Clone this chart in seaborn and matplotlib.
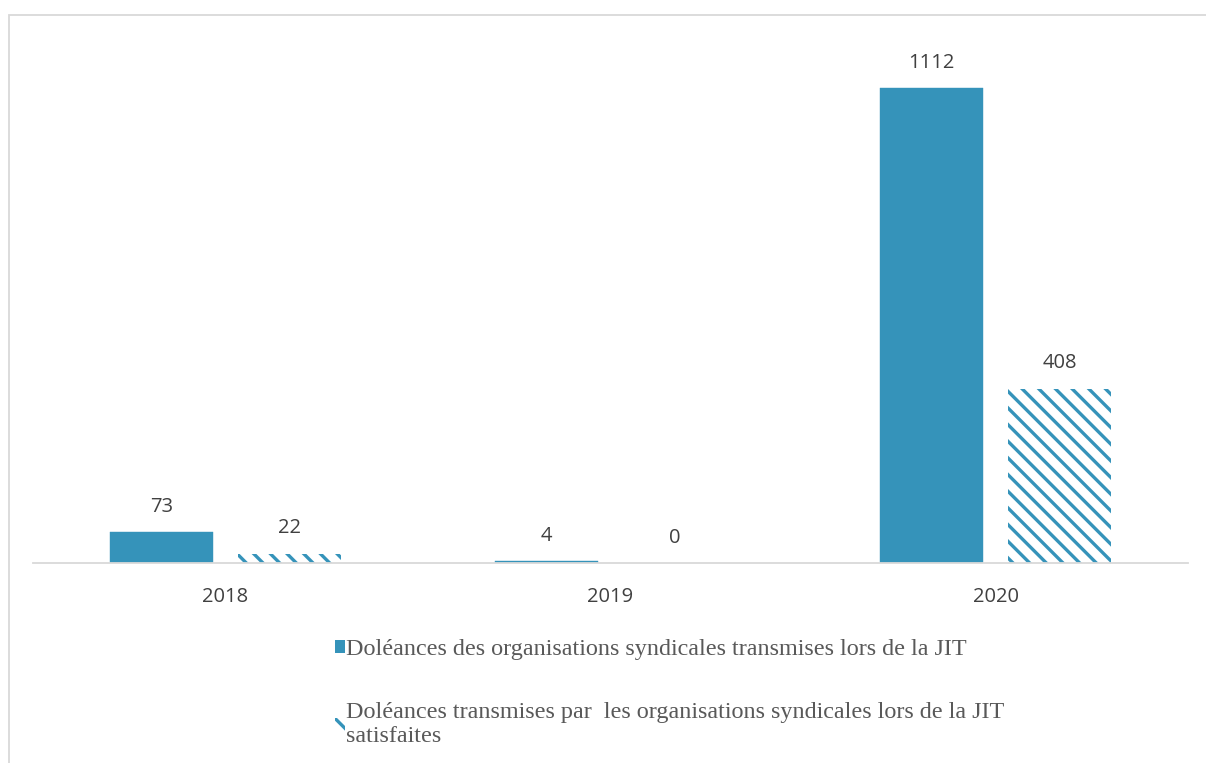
import pandas as pd
import matplotlib.pyplot as plt
import seaborn as sns
from matplotlib.patches import Rectangle

plt.switch_backend("Agg")
sns.set_theme(style="white")
plt.rcParams["font.family"] = ["Open Sans", "DejaVu Sans"]
plt.rcParams["hatch.linewidth"] = 2.4

# Data
years = ["2018", "2019", "2020"]
transmises = [73, 4, 1112]
satisfaites = [22, 0, 408]
series_names = [
    "Doléances des organisations syndicales transmises lors de la JIT",
    "Doléances transmises par  les organisations syndicales lors de la JIT\nsatisfaites",
]

BLUE = "#3593BA"
GREY_TXT = "#404040"
FRAME = "#D9D9D9"

df = pd.DataFrame({
    "Année": years * 2,
    "Valeur": transmises + satisfaites,
    "Série": [series_names[0]] * 3 + [series_names[1]] * 3,
})

fig = plt.figure(figsize=(12.06, 7.63), dpi=100)
ax = fig.add_axes([33 / 1206, 1 - 563 / 763, 1155 / 1206, (563 - 30) / 763])

sns.barplot(data=df, x="Année", y="Valeur", hue="Série", order=years,
            hue_order=series_names, palette=[BLUE, BLUE], width=0.667,
            gap=0.2, ax=ax, legend=False, saturation=1)

# second series: hatched bars
for bar in ax.containers[1]:
    bar.set_facecolor("white")
    bar.set_edgecolor(BLUE)
    bar.set_linewidth(0)
    bar.set_hatch("\\\\")
for bar in ax.containers[0]:
    bar.set_edgecolor(BLUE)
    bar.set_linewidth(0.3)

for cont in ax.containers:
    ax.bar_label(cont, fmt="%d", padding=11, fontsize=14.5, color=GREY_TXT)

ax.set_xlim(-0.5, 2.5)
ax.set_ylim(0, 1248)
ax.set_xlabel("")
ax.set_ylabel("")
ax.set_yticks([])
ax.tick_params(axis="x", length=0, pad=17, labelsize=14.5, labelcolor=GREY_TXT)
for side in ["top", "left", "right"]:
    ax.spines[side].set_visible(False)
ax.spines["bottom"].set_color(FRAME)
ax.spines["bottom"].set_linewidth(1.3)

# outer chart frame
fig.patches.append(Rectangle((9 / 1206, -0.05), 1.2, 1 - 15 / 763 + 0.05,
                             transform=fig.transFigure, fill=False,
                             edgecolor=FRAME, linewidth=1.3))

# legend
handles = [
    Rectangle((0, 0), 1, 1, facecolor=BLUE, edgecolor="none"),
    Rectangle((0, 0), 1, 1, facecolor="white", edgecolor=BLUE, hatch="\\\\", linewidth=0),
]
leg = fig.legend(handles, series_names, loc="upper left",
                 bbox_to_anchor=(335 / 1206, 1 - 639 / 763), frameon=False,
                 prop={"family": "Liberation Serif", "size": 17.4},
                 labelcolor="#595959", handlelength=0.42, handleheight=0.42,
                 handletextpad=0.05, labelspacing=1.75, borderpad=0,
                 borderaxespad=0)

fig.savefig("out.png", dpi=100)
